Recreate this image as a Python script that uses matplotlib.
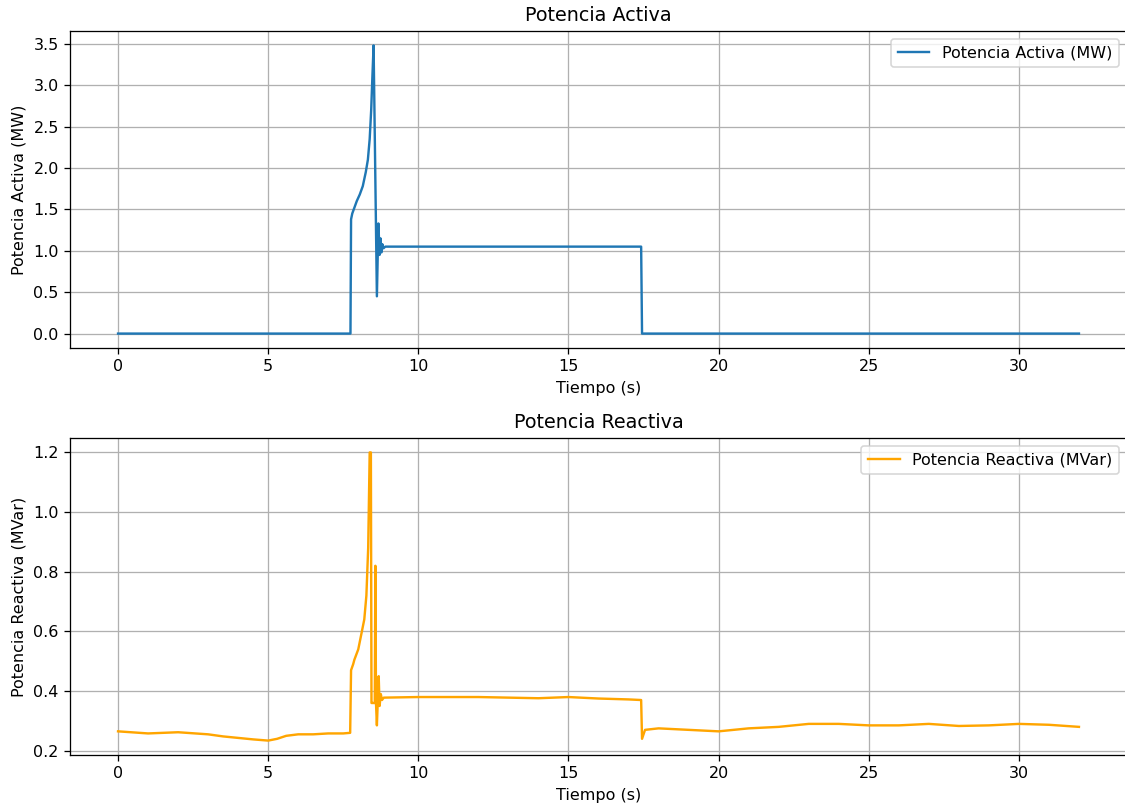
import numpy as np
import matplotlib.pyplot as plt

# active power (MW) breakpoints
t_p = [0.0, 7.74, 7.76, 7.8, 7.87, 7.95, 8.05, 8.15, 8.25, 8.32, 8.38, 8.43, 8.47, 8.51,
       8.62, 8.67, 8.71, 8.74, 8.77, 8.8, 8.84, 8.9, 17.42, 17.45, 32.0]
p_mw = [0.0, 0.0, 1.38, 1.45, 1.52, 1.6, 1.68, 1.78, 1.95, 2.1, 2.35, 2.7, 3.1, 3.48,
        0.45, 1.33, 0.95, 1.15, 0.98, 1.08, 1.03, 1.05, 1.05, 0.0, 0.0]

# reactive power (MVar) breakpoints
t_q = [0.0, 1.0, 2.0, 3.0, 3.5, 4.0, 4.5, 5.0, 5.3, 5.6, 6.0, 6.5, 7.0, 7.5, 7.73,
       7.76, 7.83, 7.87, 8.0, 8.1, 8.2, 8.27, 8.33, 8.38, 8.42, 8.44, 8.46, 8.55, 8.57,
       8.59, 8.62, 8.68, 8.71, 8.75, 8.79, 8.85, 10.0, 12.0, 14.0, 15.0, 16.0, 17.0,
       17.42, 17.45, 17.55, 18.0, 19.0, 20.0, 21.0, 22.0, 23.0, 24.0, 25.0, 26.0, 27.0,
       28.0, 29.0, 30.0, 31.0, 32.0]
q_mvar = [0.265, 0.258, 0.262, 0.255, 0.248, 0.243, 0.238, 0.234, 0.24, 0.25, 0.255,
          0.255, 0.258, 0.258, 0.26,
          0.47, 0.49, 0.505, 0.54, 0.59, 0.64, 0.72, 0.88, 1.2, 1.2, 0.36, 0.36, 0.36,
          0.82, 0.36, 0.285, 0.45, 0.35, 0.39, 0.37, 0.378, 0.38, 0.38, 0.376, 0.38,
          0.375, 0.372,
          0.37, 0.24, 0.27, 0.275, 0.27, 0.265, 0.275, 0.28, 0.29, 0.29, 0.285, 0.285,
          0.29, 0.283, 0.285, 0.29, 0.287, 0.28]

DPI = 115
W, H = 1125, 807
fig, (ax1, ax2) = plt.subplots(2, 1, figsize=(W / DPI, H / DPI), dpi=DPI)
# the original image is cropped just past the right spine
fig.subplots_adjust(left=70 / W, right=1127 / W, top=1 - 31 / H,
                    bottom=1 - 755 / H, hspace=0.284)

ax1.plot(t_p, p_mw, color="#1f77b4", lw=1.5, label="Potencia Activa (MW)")
ax1.set_title("Potencia Activa")
ax1.set_xlabel("Tiempo (s)")
ax1.set_ylabel("Potencia Activa (MW)")
ax1.grid(True)
ax1.legend(loc="upper right")

ax2.plot(t_q, q_mvar, color="orange", lw=1.5, label="Potencia Reactiva (MVar)")
ax2.set_title("Potencia Reactiva")
ax2.set_xlabel("Tiempo (s)")
ax2.set_ylabel("Potencia Reactiva (MVar)")
ax2.grid(True)
ax2.legend(loc="upper right")

fig.savefig("out.png", dpi=DPI)
